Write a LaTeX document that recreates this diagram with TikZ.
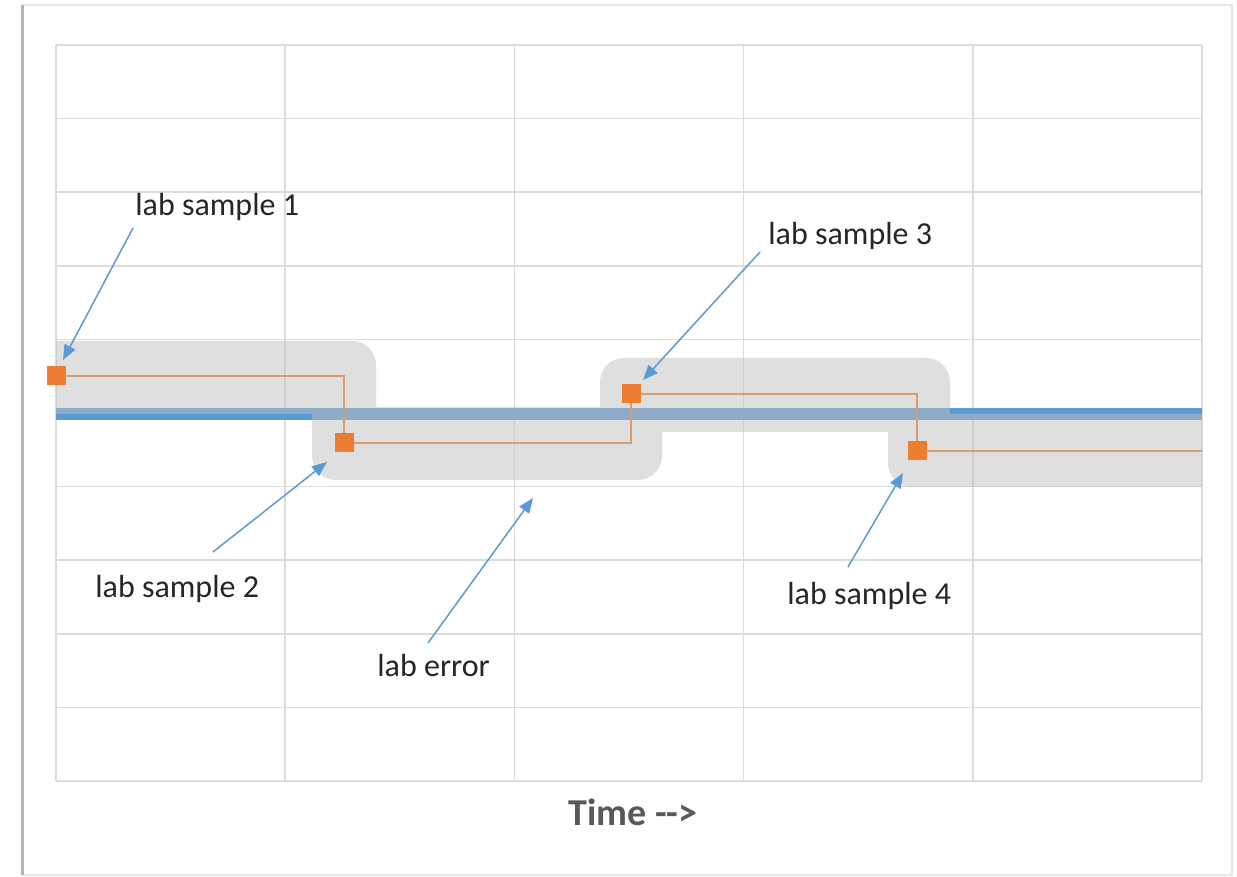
\documentclass[tikz,border=0pt]{standalone}
\usepackage{fontspec}
\setmainfont{Carlito}
\usetikzlibrary{arrows.meta}
\definecolor{gridgray}{RGB}{220,220,220}
\definecolor{truthblue}{RGB}{91,155,213}
\definecolor{sampleorange}{RGB}{237,125,49}
\definecolor{bandgray}{RGB}{191,191,191}
\definecolor{labeltext}{RGB}{38,38,38}
\definecolor{axistext}{RGB}{89,89,89}
\definecolor{framegray}{RGB}{230,230,230}
\definecolor{frameshadow}{RGB}{180,180,180}
\tikzset{
  gridline/.style={draw=gridgray, line width=0.75pt},
  errband/.style={fill=bandgray, fill opacity=0.49},
  truthline/.style={draw=truthblue, line width=6pt},
  stepline/.style={draw=sampleorange, line width=1.3pt},
  samplebox/.style={fill=sampleorange, minimum size=9.5pt, inner sep=0pt, draw=none},
  pointer/.style={draw=truthblue, line width=0.75pt, -{Triangle[length=7.5pt,width=6pt]}},
  labeltxt/.style={font=\fontsize{16}{19}\selectfont, text=labeltext, inner sep=0pt, anchor=base west},
}
\begin{document}
\begin{tikzpicture}[x=0.5pt, y=0.5pt]
  % page and its frame
  \useasboundingbox (0,0) rectangle (1237,877);
  \fill[white] (0,0) rectangle (1237,877);
  \draw[framegray, line width=1pt] (22,2) rectangle (1232,872);
  \draw[frameshadow, line width=1.5pt] (22,2) -- (22,872);

  % plot grid: 5 columns, 10 rows
  \foreach \i in {0,...,10} {
    \draw[gridline] (56,{832-73.6*\i}) -- (1202,{832-73.6*\i});
  }
  \foreach \j in {0,...,5} {
    \draw[gridline] ({56+229.2*\j},96) -- ({56+229.2*\j},832);
  }

  % true value
  \draw[truthline] (56,463) -- (1202,463);

  % lab results as a step line
  \draw[stepline] (56,501) -- (344,501) -- (344,434) -- (631,434)
    -- (631,483) -- (917,483) -- (917,426) -- (1202,426);

  % error band around the lab results
  \path[errband]
    (56,536) -- (352,536) arc[start angle=90, end angle=0, radius=24]
    -- (376,470) -- (600,470) -- (600,495)
    arc[start angle=180, end angle=90, radius=24]
    -- (926,519) arc[start angle=90, end angle=0, radius=24]
    -- (950,463) -- (1202,463) -- (1202,390) -- (912,390)
    arc[start angle=270, end angle=180, radius=24]
    -- (888,445) -- (662,445) -- (662,421)
    arc[start angle=0, end angle=-90, radius=24]
    -- (336,397) arc[start angle=270, end angle=180, radius=24]
    -- (312,463) -- (56,463) -- cycle;

  % sample markers
  \node[samplebox] (p1) at (56,501) {};
  \node[samplebox] (p2) at (344,434) {};
  \node[samplebox] (p3) at (631,483) {};
  \node[samplebox] (p4) at (917,426) {};

  % labels
  \node[labeltxt] (l1) at (135,661) {lab sample 1};
  \node[labeltxt] (l2) at (95,279) {lab sample 2};
  \node[labeltxt] (l3) at (768,632) {lab sample 3};
  \node[labeltxt] (l4) at (787,272) {lab sample 4};
  \node[labeltxt] (le) at (377,200) {lab error};
  \node[font=\fontsize{19}{22}\selectfont\bfseries, text=axistext, inner sep=0pt, anchor=base west] (tx) at (568,51) {Time -\kern0pt-\kern0pt>};

  % pointer ends
  \coordinate (a1) at (133,649);  \coordinate (b1) at (63,517);
  \coordinate (a2) at (213,325);  \coordinate (b2) at (327,415);
  \coordinate (a3) at (760,625);  \coordinate (b3) at (643,497);
  \coordinate (a4) at (848,310);  \coordinate (b4) at (903,404);
  \coordinate (ae) at (428,234);  \coordinate (be) at (533,379);

  \draw[pointer] (a1) -- (b1);
  \draw[pointer] (a2) -- (b2);
  \draw[pointer] (a3) -- (b3);
  \draw[pointer] (a4) -- (b4);
  \draw[pointer] (ae) -- (be);
\end{tikzpicture}
\end{document}
